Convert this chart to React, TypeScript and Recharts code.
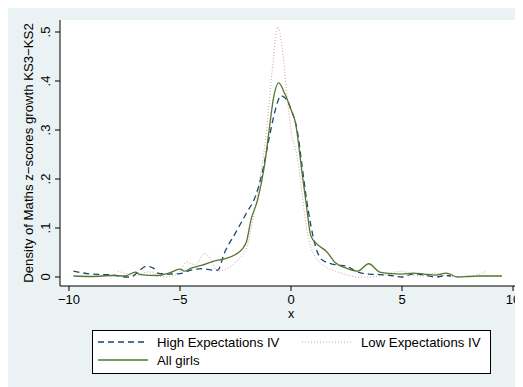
import { CartesianGrid, Line, LineChart, XAxis, YAxis } from "recharts";

// kernel density estimates
const highX = [-9.8, -9, -8.5, -8, -7.5, -7.2, -7, -6.5, -6.2, -6, -5.5, -5, -4.5, -4, -3.5, -3.3, -3, -2.5, -2, -1.6, -1.3, -1, -0.7, -0.45, -0.2, 0, 0.3, 0.5, 0.7, 0.9, 1.1, 1.4, 2, 2.5, 3, 3.5, 4, 4.5, 5, 5.5, 6, 6.5, 7, 7.2];
const highY = [0.012, 0.006, 0.005, 0.004, 0.0, 0.0, 0.006, 0.022, 0.018, 0.008, 0.006, 0.007, 0.014, 0.017, 0.014, 0.014, 0.049, 0.09, 0.131, 0.165, 0.212, 0.28, 0.342, 0.37, 0.362, 0.342, 0.294, 0.226, 0.158, 0.104, 0.063, 0.035, 0.025, 0.022, 0.01, 0.006, 0.005, 0.003, 0.0, 0.006, 0.004, 0.0, 0.003, 0.002];

const lowX = [-7.8, -7.5, -7, -6.5, -6.2, -6, -5.5, -5, -4.7, -4.3, -3.9, -3.6, -3.3, -3, -2.5, -2, -1.7, -1.4, -1.1, -0.85, -0.6, -0.4, -0.2, 0, 0.3, 0.5, 0.7, 0.9, 1.2, 1.6, 2, 2.5, 3, 3.5, 4, 4.5, 5, 5.5, 6, 6.5, 7, 7.5, 8, 8.5, 8.8];
const lowY = [0.012, 0.008, 0.003, 0.01, 0.01, 0.002, 0.0, 0.012, 0.03, 0.025, 0.048, 0.035, 0.012, 0.015, 0.03, 0.06, 0.12, 0.2, 0.3, 0.42, 0.51, 0.47, 0.38, 0.3, 0.24, 0.17, 0.1, 0.06, 0.035, 0.02, 0.012, 0.005, 0.0, 0.0, 0.002, 0.008, 0.012, 0.004, 0.002, 0.008, 0.002, 0.0, 0.002, 0.006, 0.012];

const girlsX = [-9.8, -9, -8, -7.5, -7, -6.8, -6, -5.5, -5, -4.8, -4.5, -4, -3.5, -3, -2.5, -2.2, -2, -1.8, -1.5, -1.2, -1, -0.8, -0.55, -0.3, 0, 0.2, 0.5, 0.7, 0.9, 1.2, 1.6, 2, 2.5, 3, 3.5, 4, 4.5, 5, 5.5, 6, 6.5, 7, 7.5, 8, 8.5, 9, 9.5];
const girlsY = [0.002, 0.001, 0.003, 0.002, 0.01, 0.005, 0.003, 0.008, 0.016, 0.012, 0.018, 0.024, 0.032, 0.037, 0.046, 0.057, 0.073, 0.117, 0.158, 0.226, 0.294, 0.362, 0.396, 0.376, 0.342, 0.315, 0.212, 0.144, 0.083, 0.066, 0.052, 0.029, 0.018, 0.012, 0.027, 0.01, 0.007, 0.006, 0.008, 0.006, 0.004, 0.008, 0.0, 0.001, 0.002, 0.002, 0.002];

const xTicks = [-10, -5, 0, 5, 10];
const yTicks = [0, 0.1, 0.2, 0.3, 0.4, 0.5];
const yTickLabels = ["0", ".1", ".2", ".3", ".4", ".5"];

const toRows = (xs: number[], ys: number[]) => xs.map((x, i) => ({ x, y: ys[i] }));

const FONT = "'Liberation Sans', Arial, sans-serif";
const BLUE = "#1a476f";
const PINK = "#d49aa3";
const GREEN = "#55752f";

const YTick = (props: any) => {
  const { x, y, payload } = props;
  const label = yTickLabels[yTicks.indexOf(payload.value)] ?? String(payload.value);
  return (
    <text x={x - 3} y={y} transform={`rotate(-90, ${x - 3}, ${y})`} textAnchor="middle" fontSize={13} fill="#000" fontFamily={FONT}>
      {label}
    </text>
  );
};

const XTick = (props: any) => {
  const { x, y, payload } = props;
  const v = payload.value as number;
  return (
    <text x={x} y={y + 11} textAnchor="middle" fontSize={13} fill="#000" fontFamily={FONT}>
      {v < 0 ? `\u2212${Math.abs(v)}` : v}
    </text>
  );
};

const legendItems = [
  { name: "High Expectations IV", color: BLUE, dash: "6 4", width: 1.3, col: 0, row: 0 },
  { name: "Low Expectations IV", color: PINK, dash: "1 2", width: 1, col: 1, row: 0 },
  { name: "All girls", color: GREEN, dash: undefined, width: 1.3, col: 0, row: 1 },
];

const LegendBox = () => (
  <svg width={399} height={44} style={{ display: "block" }}>
    <rect x={0.5} y={0.5} width={398} height={43} fill="#fff" stroke="#000" strokeWidth={1} />
    {legendItems.map((it) => {
      const lx = it.col === 0 ? 6 : 210;
      const cy = it.row === 0 ? 12 : 30;
      return (
        <g key={it.name}>
          <line x1={lx} x2={lx + 50} y1={cy} y2={cy} stroke={it.color} strokeWidth={it.width} strokeDasharray={it.dash} />
          <text x={lx + 59} y={cy + 4.5} fontSize={13.2} fontFamily={FONT} fill="#000">
            {it.name}
          </text>
        </g>
      );
    })}
  </svg>
);

export default function App() {
  return (
    <div style={{ width: 515, height: 381, background: "#eaf2f3", marginTop: -2, position: "relative" }}>
      <LineChart width={515} height={381} margin={{ top: 14, right: 0, left: 0, bottom: 81 }}>
        <rect x={52} y={14} width={463} height={266} fill="#fff" />
        <CartesianGrid vertical={false} stroke="#e6eef1" strokeWidth={1.5} fill="#fff" />
        <XAxis
          type="number"
          dataKey="x"
          domain={[-10.405, 10.45]}
          ticks={xTicks}
          allowDataOverflow
          height={20}
          stroke="#000"
          tickSize={5}
          tick={<XTick />}
          label={{
            content: () => (
              <text x={283} y={312} textAnchor="middle" fontSize={12.5} fontFamily={FONT} fill="#000">
                x
              </text>
            ),
          }}
        />
        <YAxis
          type="number"
          dataKey="y"
          domain={[-0.0184, 0.5245]}
          ticks={yTicks}
          allowDataOverflow
          width={52}
          stroke="#000"
          tickSize={5}
          tick={<YTick />}
          label={{
            content: () => (
              <text x={25} y={147} transform="rotate(-90, 25, 147)" textAnchor="middle" fontSize={13.2} fontFamily={FONT} fill="#000">
                Density of Maths z−scores growth KS3−KS2
              </text>
            ),
          }}
        />
        <Line data={toRows(lowX, lowY)} dataKey="y" name="Low Expectations IV" type="monotone" stroke={PINK} strokeWidth={1} strokeDasharray="1 2" dot={false} isAnimationActive={false} />
        <Line data={toRows(highX, highY)} dataKey="y" name="High Expectations IV" type="monotone" stroke={BLUE} strokeWidth={1.3} strokeDasharray="6 4" dot={false} isAnimationActive={false} />
        <Line data={toRows(girlsX, girlsY)} dataKey="y" name="All girls" type="monotone" stroke={GREEN} strokeWidth={1.3} dot={false} isAnimationActive={false} />
      </LineChart>
      <div style={{ position: "absolute", left: 84, top: 324 }}>
        <LegendBox />
      </div>
    </div>
  );
}
